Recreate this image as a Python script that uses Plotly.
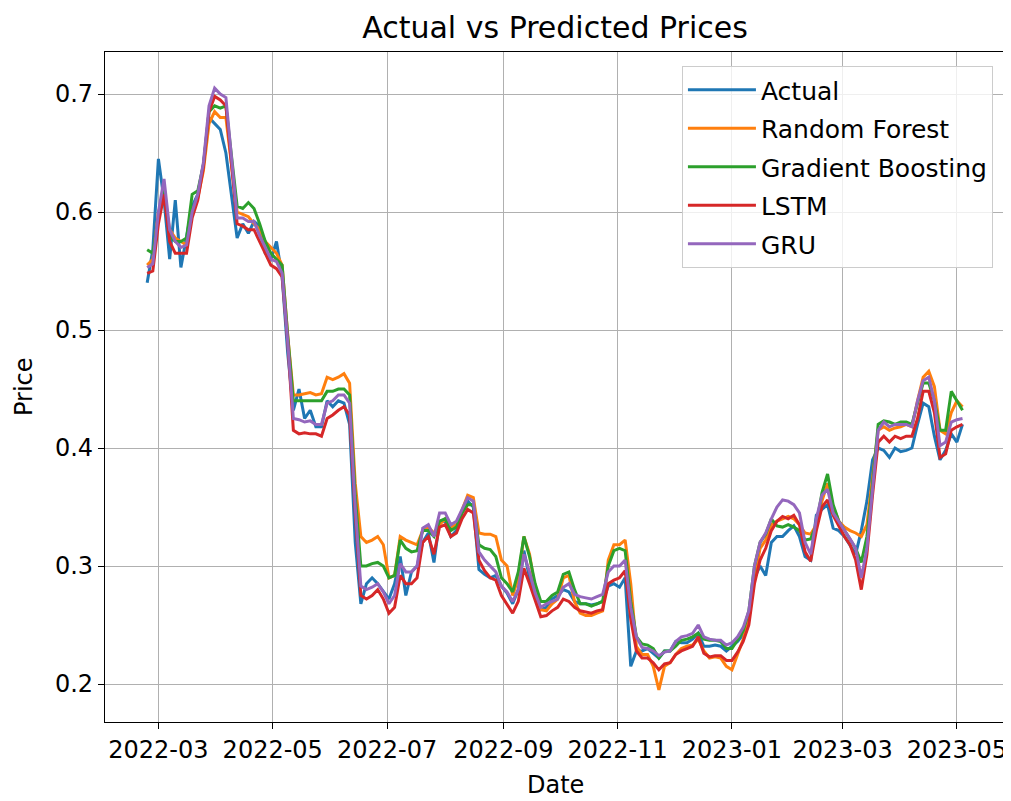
import pandas as pd
import plotly.graph_objects as go

# 3-day sampling of the series
dates = pd.date_range("2022-02-23", periods=146, freq="3D")

actual = [
0.540,0.568,0.645,0.610,0.560,0.610,0.553,0.578,0.605,0.615,
0.640,0.680,0.675,0.670,0.650,0.615,0.578,0.590,0.582,0.592,
0.588,0.565,0.560,0.575,0.545,0.480,0.432,0.450,0.425,0.432,
0.418,0.418,0.440,0.435,0.440,0.438,0.420,0.320,0.268,0.285,
0.290,0.285,0.278,0.272,0.285,0.308,0.275,0.295,0.300,0.320,
0.328,0.303,0.338,0.338,0.325,0.330,0.345,0.355,0.350,0.297,
0.293,0.290,0.292,0.283,0.277,0.268,0.280,0.313,0.290,0.275,
0.263,0.265,0.272,0.275,0.280,0.278,0.270,0.268,0.268,0.267,
0.268,0.270,0.283,0.285,0.282,0.290,0.215,0.228,0.228,0.230,
0.226,0.222,0.228,0.228,0.236,0.235,0.235,0.238,0.243,0.232,
0.232,0.233,0.232,0.228,0.232,0.236,0.242,0.255,0.290,0.300,
0.292,0.320,0.325,0.325,0.330,0.334,0.325,0.308,0.305,0.343,
0.348,0.352,0.332,0.330,0.325,0.318,0.310,0.330,0.355,0.390,
0.400,0.398,0.392,0.400,0.397,0.398,0.400,0.420,0.438,0.435,
0.410,0.390,0.398,0.412,0.405,0.420]

random_forest = [
0.555,0.560,0.600,0.615,0.585,0.578,0.575,0.572,0.600,0.612,
0.635,0.675,0.685,0.680,0.680,0.640,0.600,0.598,0.596,0.590,
0.585,0.575,0.570,0.565,0.555,0.495,0.445,0.445,0.446,0.447,
0.445,0.446,0.460,0.458,0.460,0.463,0.455,0.370,0.325,0.320,
0.322,0.325,0.318,0.290,0.292,0.325,0.322,0.320,0.318,0.330,
0.333,0.328,0.335,0.340,0.333,0.335,0.348,0.360,0.358,0.328,
0.327,0.327,0.325,0.305,0.300,0.275,0.290,0.325,0.310,0.280,
0.263,0.262,0.268,0.272,0.290,0.292,0.270,0.260,0.258,0.258,
0.260,0.262,0.305,0.318,0.318,0.322,0.285,0.232,0.225,0.225,
0.215,0.195,0.215,0.218,0.225,0.230,0.232,0.233,0.238,0.228,
0.222,0.223,0.222,0.215,0.212,0.225,0.238,0.255,0.290,0.315,
0.322,0.335,0.338,0.340,0.342,0.340,0.335,0.328,0.327,0.335,
0.355,0.370,0.350,0.338,0.333,0.330,0.328,0.325,0.335,0.375,
0.415,0.418,0.415,0.417,0.418,0.420,0.418,0.440,0.460,0.465,
0.452,0.415,0.412,0.430,0.440,0.435]

gradient_boosting = [
0.568,0.565,0.595,0.620,0.580,0.575,0.575,0.578,0.615,0.618,
0.640,0.685,0.690,0.688,0.690,0.645,0.605,0.603,0.608,0.603,
0.590,0.575,0.565,0.560,0.555,0.495,0.440,0.440,0.440,0.440,
0.440,0.440,0.448,0.448,0.450,0.450,0.445,0.360,0.300,0.300,
0.302,0.303,0.300,0.290,0.292,0.322,0.315,0.312,0.313,0.330,
0.330,0.325,0.338,0.340,0.330,0.333,0.345,0.352,0.352,0.318,
0.315,0.314,0.308,0.290,0.285,0.278,0.295,0.325,0.308,0.285,
0.270,0.270,0.275,0.278,0.293,0.295,0.280,0.268,0.268,0.266,
0.268,0.270,0.300,0.313,0.315,0.313,0.270,0.240,0.234,0.233,
0.230,0.222,0.228,0.228,0.232,0.237,0.238,0.240,0.243,0.238,
0.237,0.237,0.236,0.230,0.230,0.238,0.245,0.262,0.300,0.320,
0.327,0.340,0.334,0.333,0.335,0.333,0.330,0.322,0.323,0.335,
0.362,0.378,0.352,0.338,0.330,0.322,0.315,0.303,0.325,0.370,
0.420,0.423,0.422,0.420,0.422,0.422,0.420,0.438,0.455,0.455,
0.440,0.415,0.415,0.448,0.440,0.432]

lstm = [
0.548,0.550,0.590,0.615,0.575,0.565,0.565,0.565,0.595,0.610,
0.638,0.685,0.698,0.695,0.690,0.640,0.590,0.588,0.585,0.585,
0.575,0.565,0.555,0.552,0.545,0.490,0.415,0.412,0.413,0.412,
0.412,0.410,0.425,0.428,0.432,0.435,0.428,0.345,0.275,0.272,
0.275,0.280,0.272,0.260,0.265,0.292,0.285,0.285,0.290,0.320,
0.325,0.310,0.333,0.335,0.325,0.328,0.340,0.348,0.345,0.305,
0.296,0.290,0.288,0.275,0.268,0.260,0.270,0.298,0.285,0.270,
0.257,0.258,0.262,0.265,0.272,0.270,0.265,0.262,0.261,0.260,
0.262,0.263,0.285,0.288,0.290,0.296,0.255,0.228,0.222,0.222,
0.218,0.212,0.217,0.218,0.225,0.228,0.230,0.232,0.240,0.226,
0.223,0.224,0.224,0.220,0.220,0.227,0.236,0.250,0.285,0.305,
0.315,0.330,0.338,0.342,0.340,0.343,0.335,0.312,0.304,0.330,
0.350,0.356,0.343,0.334,0.325,0.318,0.305,0.280,0.310,0.360,
0.405,0.410,0.405,0.410,0.408,0.410,0.410,0.425,0.448,0.448,
0.430,0.392,0.395,0.415,0.418,0.420]

gru = [
0.553,0.556,0.600,0.628,0.585,0.575,0.570,0.572,0.600,0.615,
0.642,0.690,0.705,0.700,0.697,0.645,0.595,0.595,0.592,0.592,
0.580,0.570,0.560,0.558,0.548,0.490,0.425,0.424,0.422,0.423,
0.420,0.420,0.438,0.440,0.445,0.445,0.438,0.350,0.283,0.280,
0.282,0.285,0.278,0.268,0.275,0.302,0.295,0.295,0.300,0.332,
0.335,0.325,0.345,0.345,0.335,0.338,0.348,0.358,0.355,0.312,
0.305,0.300,0.295,0.283,0.278,0.270,0.280,0.310,0.295,0.277,
0.265,0.268,0.270,0.272,0.282,0.285,0.276,0.274,0.273,0.272,
0.274,0.276,0.295,0.300,0.300,0.305,0.265,0.240,0.231,0.230,
0.228,0.224,0.227,0.228,0.236,0.240,0.241,0.243,0.250,0.240,
0.238,0.237,0.237,0.233,0.235,0.240,0.248,0.262,0.300,0.320,
0.328,0.340,0.350,0.356,0.355,0.352,0.345,0.320,0.310,0.340,
0.360,0.365,0.345,0.338,0.330,0.323,0.315,0.290,0.315,0.365,
0.415,0.422,0.418,0.420,0.420,0.420,0.418,0.440,0.457,0.460,
0.440,0.402,0.405,0.422,0.424,0.425]

series_names = ["Actual", "Random Forest", "Gradient Boosting", "LSTM", "GRU"]
series_values = [actual, random_forest, gradient_boosting, lstm, gru]
colors = ["#1f77b4", "#ff7f0e", "#2ca02c", "#d62728", "#9467bd"]

x_tick_dates = ["2022-03-01", "2022-05-01", "2022-07-01", "2022-09-01",
                "2022-11-01", "2023-01-01", "2023-03-01", "2023-05-01"]
x_tick_labels = ["2022-03", "2022-05", "2022-07", "2022-09",
                 "2022-11", "2023-01", "2023-03", "2023-05"]
y_ticks = [0.2, 0.3, 0.4, 0.5, 0.6, 0.7]

FONT = "DejaVu Sans"
FS = 24

# page has an 8px body margin: figure is offset by 8px in the window
W, H = 1003, 793
ML, MR, MT, MB = 97, 6, 44, 79
PW, PH = W - ML - MR, H - MT - MB

fig = go.Figure()
for name, vals, col in zip(series_names, series_values, colors):
    fig.add_trace(go.Scatter(x=dates, y=vals, mode="lines", name=name,
                             legendgroup=name,
                             line=dict(color=col, width=3)))

fig.update_layout(
    width=W, height=H,
    margin=dict(l=ML, r=MR, t=MT, b=MB, autoexpand=False),
    paper_bgcolor="white", plot_bgcolor="white",
    font=dict(family=FONT, size=FS, color="black"),
    title=dict(text="Actual vs Predicted Prices", x=0.5, xref="paper",
               y=1 - 19 / H, yref="container", yanchor="middle",
               xanchor="center", font=dict(size=30, family=FONT, color="black")),
    showlegend=True,
    legend=dict(x=0.9866, xanchor="right", y=0.979, yanchor="top",
                bgcolor="rgba(255,255,255,0.8)", bordercolor="#cccccc",
                borderwidth=1, font=dict(size=25, family=FONT),
                traceorder="grouped", tracegroupgap=3, itemwidth=68),
    annotations=[
        dict(text="Date", xref="paper", yref="paper", x=0.5,
             y=-(777 - (MT + PH)) / PH, xanchor="center", yanchor="middle",
             showarrow=False, font=dict(size=FS, family=FONT, color="black")),
        dict(text="Price", xref="paper", yref="paper", x=-(ML - 16) / PW,
             y=0.5, xanchor="center", yanchor="middle", textangle=-90,
             showarrow=False, font=dict(size=FS, family=FONT, color="black")),
    ],
)
fig.update_xaxes(
    type="date", automargin=False,
    range=["2022-01-31 12:00", "2023-05-26 16:00"],
    tickvals=x_tick_dates, ticktext=x_tick_labels,
    showgrid=True, gridcolor="#b0b0b0", gridwidth=1.3,
    showline=True, linecolor="black", linewidth=1.3, mirror=True,
    ticks="outside", ticklen=6, tickwidth=1.3, tickcolor="black",
    zeroline=False,
)
fig.update_yaxes(
    automargin=False,
    range=[0.1678, 0.7356],
    tickvals=y_ticks, tickformat=".1f",
    showgrid=True, gridcolor="#b0b0b0", gridwidth=1.3,
    showline=True, linecolor="black", linewidth=1.3, mirror=True,
    ticks="outside", ticklen=6, tickwidth=1.3, tickcolor="black",
    zeroline=False,
)

fig.write_html("out.html")
